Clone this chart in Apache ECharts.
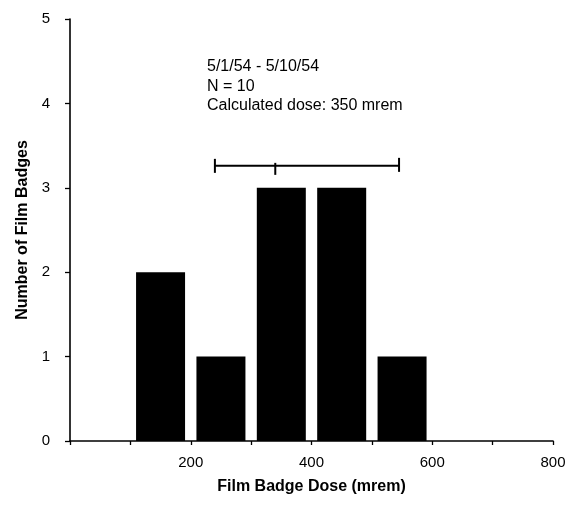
<!DOCTYPE html>
<html>
<head>
<meta charset="UTF-8">
<title>Film Badge Dose</title>
<script src="https://cdn.jsdelivr.net/npm/echarts@6/dist/echarts.min.js"></script>
<style>
body { margin: 0; padding: 0; background: #fff; }
#main { width: 579px; height: 508px; }
</style>
</head>
<body>
<div id="main"></div>
<script>
// histogram bins (bin centre, mrem) and counts
var binCenters = [150, 250, 350, 450, 550];
var counts = [2, 1, 3, 3, 1];
// range bar above the bars: low, centre, high (mrem) at height y
var rangeBar = [240, 340, 545];
var rangeY = 3.26;
var noteLines = ['5/1/54 - 5/10/54', 'N = 10', 'Calculated dose: 350 mrem'];
var xLabels = [200, 400, 600, 800];

var chart = echarts.init(document.getElementById('main'));
var font = 'Liberation Sans, Arial, Helvetica, sans-serif';

var barData = binCenters.map(function (c, i) { return [c, counts[i]]; });

option = {
    animation: false,
    grid: { left: 70, right: 26, top: 19, bottom: 67 },
    xAxis: {
        type: 'value',
        min: 0, max: 800, interval: 100,
        name: 'Film Badge Dose (mrem)',
        nameLocation: 'middle',
        nameGap: 38,
        nameTextStyle: { color: '#000', fontSize: 16, fontWeight: 'bold', fontFamily: font },
        axisLine: { lineStyle: { color: '#000', width: 1.6 } },
        axisTick: { length: 4, lineStyle: { color: '#000', width: 1.3 } },
        axisLabel: {
            color: '#000', fontSize: 15, fontFamily: font, margin: 14,
            formatter: function (v) { return xLabels.indexOf(v) >= 0 ? String(v) : ''; }
        },
        splitLine: { show: false }
    },
    yAxis: {
        type: 'value',
        min: 0, max: 5, interval: 1,
        name: 'Number of Film Badges',
        nameLocation: 'middle',
        nameGap: 38,
        nameTextStyle: { color: '#000', fontSize: 16, fontWeight: 'bold', fontFamily: font },
        axisLine: { show: true, lineStyle: { color: '#000', width: 1.6 } },
        axisTick: { show: true, length: 5, lineStyle: { color: '#000', width: 1.3 } },
        axisLabel: { color: '#000', fontSize: 15, fontFamily: font, margin: 20 },
        splitLine: { show: false }
    },
    series: [
        {
            type: 'bar',
            data: barData,
            barWidth: 49,
            itemStyle: { color: '#000' }
        },
        {
            type: 'custom',
            data: [[rangeBar[0], rangeBar[1], rangeBar[2], rangeY]],
            renderItem: function (params, api) {
                var y = api.value(3);
                var a = api.coord([api.value(0), y]);
                var m = api.coord([api.value(1), y]);
                var b = api.coord([api.value(2), y]);
                var st = { stroke: '#000', lineWidth: 2 };
                return {
                    type: 'group',
                    children: [
                        { type: 'line', shape: { x1: a[0], y1: a[1], x2: b[0], y2: b[1] }, style: st },
                        { type: 'line', shape: { x1: a[0], y1: a[1] - 7, x2: a[0], y2: a[1] + 7 }, style: st },
                        { type: 'line', shape: { x1: b[0], y1: b[1] - 8, x2: b[0], y2: b[1] + 6 }, style: st },
                        { type: 'line', shape: { x1: m[0], y1: m[1] - 3, x2: m[0], y2: m[1] + 9 }, style: st }
                    ]
                };
            }
        }
    ],
    graphic: [
        {
            type: 'text',
            left: 207,
            top: 57,
            style: {
                text: noteLines.join('\n'),
                fill: '#000',
                font: '16px ' + font,
                lineHeight: 19.5
            }
        }
    ]
};
chart.setOption(option);
</script>
</body>
</html>
